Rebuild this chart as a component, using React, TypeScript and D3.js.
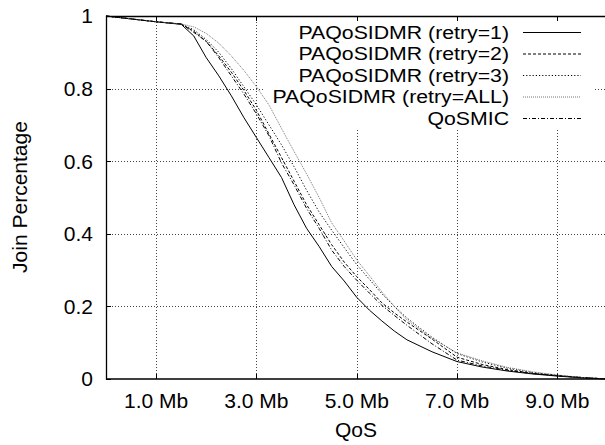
import React, { useEffect, useRef } from 'react';
import * as d3 from 'd3';

// QoS in Mb (x) and join percentage for each run
const qos = [0, 1, 1.5, 1.75, 2, 2.25, 2.5, 2.75, 3, 3.25, 3.5, 3.75, 4, 4.25, 4.5, 4.75, 5, 5.25, 5.5, 5.75, 6, 6.5, 7, 7.5, 8, 8.5, 9, 9.5, 10];

const retry1 = [1, 0.984, 0.977, 0.945, 0.885, 0.835, 0.78, 0.72, 0.665, 0.61, 0.555, 0.48, 0.415, 0.365, 0.31, 0.27, 0.225, 0.19, 0.16, 0.132, 0.108, 0.075, 0.048, 0.033, 0.022, 0.014, 0.008, 0.003, 0];
const retry2 = [1, 0.984, 0.978, 0.958, 0.93, 0.89, 0.845, 0.795, 0.74, 0.675, 0.61, 0.545, 0.48, 0.425, 0.37, 0.322, 0.282, 0.247, 0.21, 0.182, 0.157, 0.11, 0.06, 0.04, 0.026, 0.016, 0.009, 0.004, 0];
const retry3 = [1, 0.984, 0.978, 0.962, 0.935, 0.9, 0.855, 0.805, 0.755, 0.7, 0.645, 0.585, 0.52, 0.46, 0.41, 0.362, 0.315, 0.275, 0.235, 0.2, 0.168, 0.115, 0.07, 0.047, 0.03, 0.018, 0.01, 0.004, 0];
const retryAll = [1, 0.984, 0.978, 0.97, 0.952, 0.925, 0.89, 0.85, 0.805, 0.755, 0.69, 0.627, 0.565, 0.5, 0.43, 0.38, 0.328, 0.285, 0.24, 0.2, 0.163, 0.112, 0.072, 0.05, 0.032, 0.02, 0.011, 0.004, 0];
const qosmic = [1, 0.984, 0.978, 0.955, 0.93, 0.885, 0.835, 0.785, 0.73, 0.67, 0.595, 0.535, 0.47, 0.415, 0.355, 0.31, 0.272, 0.237, 0.203, 0.175, 0.148, 0.097, 0.052, 0.036, 0.024, 0.015, 0.009, 0.004, 0];

const seriesNames = ['PAQoSIDMR (retry=1)', 'PAQoSIDMR (retry=2)', 'PAQoSIDMR (retry=3)', 'PAQoSIDMR (retry=ALL)', 'QoSMIC'];
const seriesValues = [retry1, retry2, retry3, retryAll, qosmic];

const xTicks = [1, 3, 5, 7, 9];
const yTicks = [0, 0.2, 0.4, 0.6, 0.8, 1];

// line styles per series (gnuplot-ish)
const styles = [
    { stroke: '#000', dash: null },
    { stroke: '#000', dash: '3,2' },
    { stroke: '#000', dash: '1.2,2' },
    { stroke: '#777', dash: '1,1' },
    { stroke: '#000', dash: '4,2,1,2' },
];

const FONT = '"Liberation Sans", Arial, Helvetica, sans-serif';

const App = () => {
    const ref = useRef(null);

    useEffect(() => {
        const svg = d3.select(ref.current);
        svg.selectAll('*').remove();

        const left = 106, top = 16, bottom = 379, right = 607.5;

        const x = d3.scaleLinear().domain([0, 10]).range([left, right]);
        const y = d3.scaleLinear().domain([0, 1]).range([bottom, top]);

        // grid
        const grid = svg.append('g')
            .attr('stroke', '#444')
            .attr('stroke-width', 1)
            .attr('stroke-dasharray', '1,2');
        xTicks.forEach(t => {
            grid.append('line')
                .attr('x1', Math.round(x(t)) + 0.5).attr('x2', Math.round(x(t)) + 0.5)
                .attr('y1', top).attr('y2', bottom);
        });
        yTicks.slice(1, -1).forEach(t => {
            grid.append('line')
                .attr('x1', left).attr('x2', right)
                .attr('y1', Math.round(y(t)) + 0.5).attr('y2', Math.round(y(t)) + 0.5);
        });

        // legend box hides grid behind it
        svg.append('rect')
            .attr('x', 264).attr('y', top + 1)
            .attr('width', 330).attr('height', 112)
            .attr('fill', '#fff');

        // curves
        const line = d3.line()
            .x((d, i) => x(qos[i]))
            .y(d => y(d));

        seriesValues.forEach((vals, i) => {
            svg.append('path')
                .datum(vals)
                .attr('d', line)
                .attr('fill', 'none')
                .attr('stroke', styles[i].stroke)
                .attr('stroke-width', 1)
                .attr('stroke-dasharray', styles[i].dash);
        });

        // frame
        svg.append('path')
            .attr('d', `M${right},${top + 0.5}H${left + 0.5}V${bottom}H${right}`)
            .attr('fill', 'none')
            .attr('stroke', '#000')
            .attr('stroke-width', 1.3);

        // ticks
        const ticks = svg.append('g').attr('stroke', '#000').attr('stroke-width', 1);
        xTicks.forEach(t => {
            const px = Math.round(x(t)) + 0.5;
            ticks.append('line').attr('x1', px).attr('x2', px).attr('y1', bottom).attr('y2', bottom - 5);
            ticks.append('line').attr('x1', px).attr('x2', px).attr('y1', top).attr('y2', top + 5);
        });
        yTicks.forEach(t => {
            const py = Math.round(y(t)) + 0.5;
            ticks.append('line').attr('x1', left).attr('x2', left + 5).attr('y1', py).attr('y2', py);
        });

        // tick labels
        const labels = svg.append('g')
            .style('font-family', FONT)
            .style('font-size', '21px')
            .attr('fill', '#000');
        xTicks.forEach(t => {
            labels.append('text')
                .attr('x', x(t)).attr('y', 408)
                .attr('text-anchor', 'middle')
                .text(`${t.toFixed(1)} Mb`);
        });
        yTicks.forEach(t => {
            labels.append('text')
                .attr('x', 93).attr('y', y(t))
                .attr('dy', '0.35em')
                .attr('text-anchor', 'end')
                .text(t === 0 || t === 1 ? String(t) : t.toFixed(1));
        });

        // axis titles
        labels.append('text')
            .attr('x', 356).attr('y', 437)
            .attr('text-anchor', 'middle')
            .text('QoS');
        labels.append('text')
            .attr('transform', 'translate(27,197) rotate(-90)')
            .attr('text-anchor', 'middle')
            .text('Join Percentage');

        // legend (font is a bit wider than tall in the original)
        seriesNames.forEach((name, i) => {
            const ly = 32.5 + i * 21.5;
            svg.append('text')
                .attr('transform', `translate(509,${ly}) scale(1.15,1)`)
                .attr('dy', '0.35em')
                .attr('text-anchor', 'end')
                .style('font-family', FONT)
                .style('font-size', '18.5px')
                .text(name);
            svg.append('line')
                .attr('x1', 523).attr('x2', 581)
                .attr('y1', ly).attr('y2', ly)
                .attr('stroke', styles[i].stroke)
                .attr('stroke-width', 1)
                .attr('stroke-dasharray', styles[i].dash);
        });
    }, []);

    return (
        <svg ref={ref} width={605} height={445}
            style={{ position: 'absolute', left: 0, top: 0, background: '#fff' }} />
    );
};

export default App;
